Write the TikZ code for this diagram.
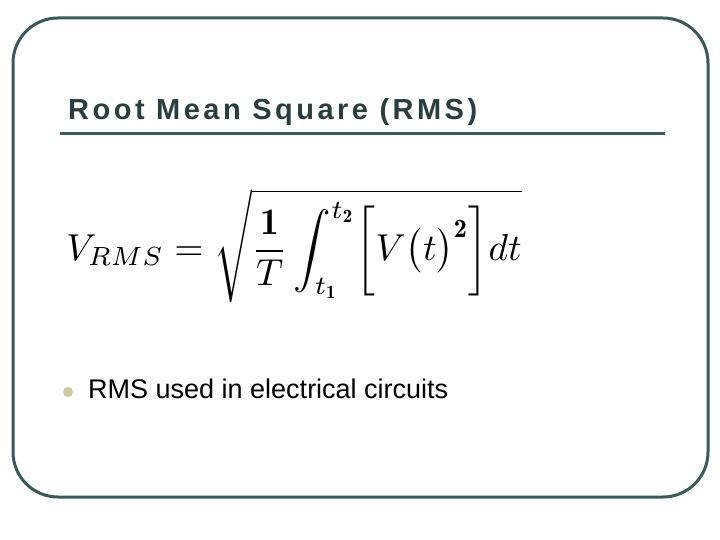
\documentclass[tikz,border=0pt]{standalone}
\usepackage{fontspec}
\newfontfamily\arial{Liberation Sans}
\newfontfamily\arialsp[LetterSpace=12]{Liberation Sans}
\usepackage{amsmath}
\definecolor{frame}{HTML}{3A5A5A}
\definecolor{bul}{HTML}{C8C8A0}
\begin{document}
\begin{tikzpicture}[x=1pt,y=-1pt,
  txt/.style={anchor=base west,inner sep=0pt}]
\useasboundingbox (0,0) rectangle (720,540);
\draw[frame,line width=3pt,rounded corners=45] (13,18) rectangle (708,497);
\node[txt,text=frame!70!black,font=\arialsp\bfseries\fontsize{29}{32}\selectfont] (title) at (68,120) {Root Mean Square (RMS)};
\draw[frame,line width=3pt] (60,134) -- (665,134);
\node[anchor=center,inner sep=0pt] (eq) at (294,246) {\scalebox{3.75}{$\displaystyle V_{RMS}=\sqrt{\frac{\mathbf{1}}{T}\int_{t_{\mathbf{1}}}^{t_{\mathbf{2}}}\biggl[V\bigl(t\bigr)^{\mathbf{2}}\biggr]dt}$}};
\node[circle,fill=bul,minimum size=10pt,inner sep=0pt] (b) at (68,392) {};
\node[txt,font=\arial\fontsize{27}{30}\selectfont] (item) at (88,398) {RMS used in electrical circuits};
\end{tikzpicture}
\end{document}
